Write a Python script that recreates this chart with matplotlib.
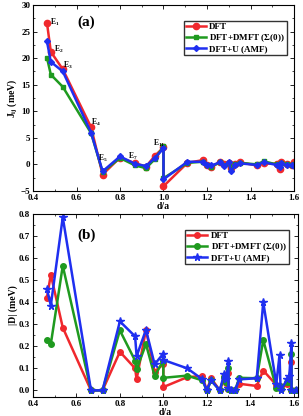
import matplotlib
matplotlib.use("Agg")
import matplotlib.pyplot as plt
from matplotlib.ticker import MultipleLocator

plt.rcParams['font.family'] = ['Liberation Serif', 'DejaVu Serif']
plt.rcParams['font.weight'] = 'bold'
plt.rcParams['mathtext.fontset'] = 'custom'
plt.rcParams['mathtext.rm'] = 'Liberation Serif:bold'
plt.rcParams['mathtext.it'] = 'Liberation Serif:bold:italic'
plt.rcParams['mathtext.bf'] = 'Liberation Serif:bold'

# ---------- panel (a) data ----------
xa = [0.464, 0.482, 0.537, 0.667, 0.72, 0.80, 0.87, 0.92, 0.96, 1.0, 1.0, 1.11, 1.18,
      1.2, 1.22, 1.26, 1.28, 1.30, 1.31, 1.33, 1.35, 1.43, 1.46, 1.52, 1.535, 1.54,
      1.57, 1.59, 1.6]
ja_dft = [26.7, 21.2, 17.9, 7.0, -1.9, 1.3, 0.2, -0.4, 1.6, 3.2, -4.1, 0.3, 0.8,
          -0.2, -0.5, 0.5, 0.0, 0.2, -0.6, 0.0, 0.4, -0.2, 0.2, 0.1, -0.9, 0.4,
          0.1, -0.2, 0.4]
ja_dmft = [20.1, 16.9, 14.6, 5.9, -1.4, 1.2, -0.2, -0.7, 1.0, 3.4, -2.6, 0.3, 0.5,
           -0.2, -0.4, 0.4, -0.1, 0.3, -0.9, 0.0, 0.3, 0.0, 0.6, 0.0, -0.3, 0.2,
           0.0, -0.2, 0.1]
ja_u = [23.2, 19.3, 17.5, 6.0, -1.3, 1.5, 0.1, -0.3, 1.2, 3.0, -2.8, 0.5, 0.5,
        -0.1, -0.2, 0.4, -0.3, 0.5, -1.3, -0.1, 0.2, -0.1, 0.4, -0.1, -0.5, 0.2,
        -0.2, -0.2, -0.3]
shell_labels = ['E$_1$', 'E$_2$', 'E$_3$', 'E$_4$', 'E$_5$', 'E$_7$', 'E$_{11}$']
shell_x = [0.50, 0.52, 0.56, 0.69, 0.72, 0.86, 0.98]
shell_y = [26.7, 21.6, 18.6, 8.0, 1.1, 1.6, 3.9]

# ---------- panel (b) data ----------
xb = [0.464, 0.482, 0.537, 0.667, 0.72, 0.80, 0.87, 0.877, 0.92, 0.96, 1.0, 1.0,
      1.11, 1.18, 1.2, 1.22, 1.26, 1.28, 1.29, 1.30, 1.30, 1.31, 1.33, 1.35, 1.43,
      1.46, 1.52, 1.535, 1.54, 1.57, 1.58, 1.59, 1.59, 1.61]
d_dft = [0.42, 0.525, 0.285, 0.0, 0.0, 0.175, 0.10, 0.05, 0.275, 0.085, 0.12, 0.015,
         0.06, 0.065, 0.0, 0.055, 0.0, 0.06, 0.035, 0.08, 0.005, 0.0, 0.0, 0.03, 0.02,
         0.09, 0.025, 0.02, 0.005, 0.03, 0.04, 0.13, 0.0, 0.0]
d_dmft = [0.23, 0.21, 0.565, 0.0, 0.0, 0.272, 0.135, 0.095, 0.21, 0.065, 0.135, 0.057,
          0.067, 0.045, 0.0, 0.045, 0.0, 0.06, 0.04, 0.10, 0.005, 0.0, 0.0, 0.057, 0.055,
          0.228, 0.01, 0.02, 0.005, 0.04, 0.04, 0.165, 0.0, 0.0]
d_u = [0.46, 0.385, 0.785, 0.0, 0.0, 0.313, 0.245, 0.155, 0.275, 0.118, 0.167, 0.138,
       0.10, 0.05, 0.0, 0.045, 0.0, 0.075, 0.05, 0.133, 0.01, 0.0, 0.0, 0.05, 0.055,
       0.40, 0.03, 0.16, 0.0, 0.05, 0.065, 0.215, 0.0, 0.0]

labels = ['DFT', r'DFT+DMFT ($\Sigma$(0))', 'DFT+U (AMF)']
colors = ['#f0282d', '#1f9a1f', '#1f2ff0']

W, H = 303, 416
fig = plt.figure(figsize=(W / 100, H / 100), dpi=100)
axa = fig.add_axes([33 / W, 1 - 191 / H, (294 - 33) / W, (191 - 5) / H])
axb = fig.add_axes([33 / W, 1 - 397 / H, (298 - 33) / W, (397 - 214) / H])

lw = 1.8
ms = 4
axa.plot(xa, ja_dft, color=colors[0], marker='o', ms=ms + 0.5, lw=lw, label=labels[0])
axa.plot(xa, ja_dmft, color=colors[1], marker='s', ms=ms - 0.5, lw=lw, label=labels[1])
axa.plot(xa, ja_u, color=colors[2], marker='D', ms=ms - 1, lw=lw, label=labels[2])

for t, x, y in zip(shell_labels, shell_x, shell_y):
    axa.text(x, y, t, fontsize=5.5, fontweight='bold', ha='center', va='center')

axa.text(0.645, 26.8, '(a)', fontsize=11, fontweight='bold', ha='center', va='center')
axa.set_xlim(0.4, 1.6)
axa.set_ylim(-5, 30)
axa.xaxis.set_major_locator(MultipleLocator(0.2))
axa.xaxis.set_minor_locator(MultipleLocator(0.1))
axa.yaxis.set_major_locator(MultipleLocator(5))
axa.yaxis.set_minor_locator(MultipleLocator(2.5))
axa.set_ylabel(r'J$_{\rm ij}$ (meV)', fontsize=7, fontweight='bold', labelpad=1)
axa.set_xlabel('d/a', fontsize=7, fontweight='bold', labelpad=0)
axa.legend(loc='upper right', fontsize=6.5, frameon=True, fancybox=False, edgecolor='black',
           handlelength=2.2, borderpad=0.25, labelspacing=0.1, handletextpad=0.4,
           borderaxespad=0.3, bbox_to_anchor=(0.985, 0.93))

axb.plot(xb, d_dft, color=colors[0], marker='o', ms=ms, lw=lw, label=labels[0])
axb.plot(xb, d_dmft, color=colors[1], marker='o', ms=ms, lw=lw, label=labels[1])
axb.plot(xb, d_u, color=colors[2], marker='*', ms=ms + 1.5, lw=lw, label=labels[2])
axb.text(0.645, 0.703, '(b)', fontsize=11, fontweight='bold', ha='center', va='center')
axb.set_xlim(0.4, 1.62)
axb.set_ylim(-0.03, 0.8)
axb.xaxis.set_major_locator(MultipleLocator(0.2))
axb.xaxis.set_minor_locator(MultipleLocator(0.1))
axb.yaxis.set_major_locator(MultipleLocator(0.1))
axb.yaxis.set_minor_locator(MultipleLocator(0.05))
axb.set_ylabel('|D| (meV)', fontsize=7, fontweight='bold', labelpad=1)
axb.set_xlabel('d/a', fontsize=7, fontweight='bold', labelpad=0)
axb.legend(loc='upper right', fontsize=6.5, frameon=True, fancybox=False, edgecolor='black',
           handlelength=2.2, borderpad=0.25, labelspacing=0.1, handletextpad=0.4,
           borderaxespad=0.3, bbox_to_anchor=(0.975, 0.93))

for ax in (axa, axb):
    ax.tick_params(which='both', direction='in', top=True, right=True, labelsize=6.5, pad=2)
    ax.tick_params(which='major', length=3, width=0.6)
    ax.tick_params(which='minor', length=1.5, width=0.5)
    for lab in ax.get_xticklabels() + ax.get_yticklabels():
        lab.set_fontweight('bold')
    for s in ax.spines.values():
        s.set_linewidth(0.8)

fig.savefig('out.png', dpi=100)
